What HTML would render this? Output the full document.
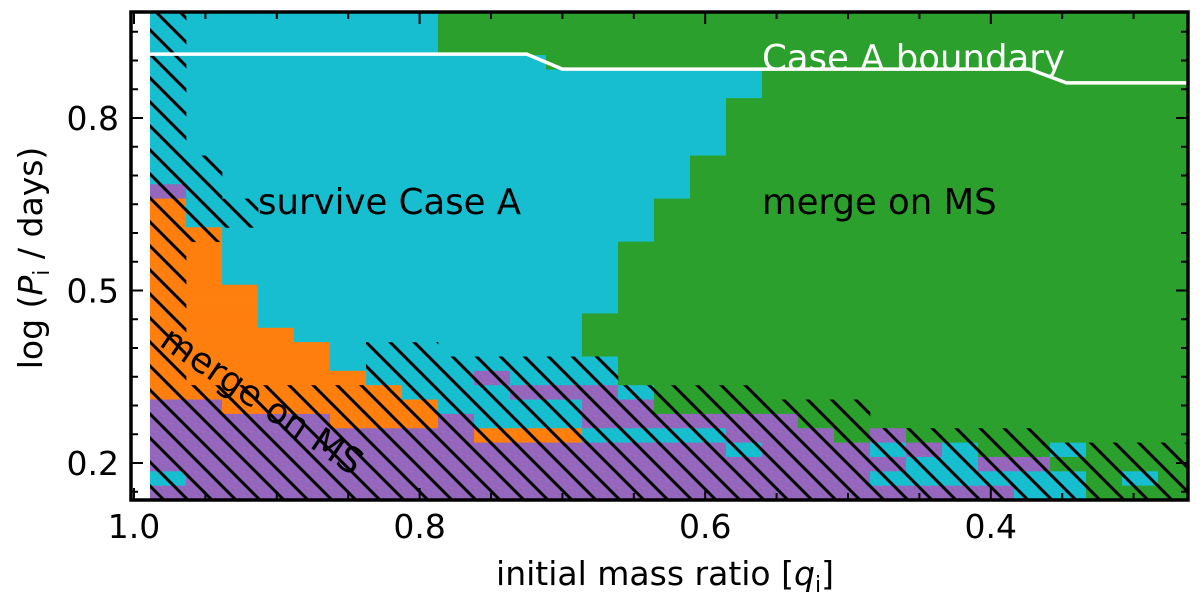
<!DOCTYPE html>
<html><head><meta charset="utf-8"><style>
body{margin:0;background:#fff}
svg{display:block;font-family:"DejaVu Sans","Liberation Sans",sans-serif}
</style></head><body>
<svg id="chart" width="1200" height="596" viewBox="0 0 1200 596">
<defs>
<clipPath id="plotclip"><rect x="131" y="12" width="1057" height="488"/></clipPath>
<pattern id="hatch" patternUnits="userSpaceOnUse" width="24" height="24">
<path d="M-6,-6 L30,30 M-6,18 L6,30 M18,-6 L30,6" stroke="#000" stroke-width="3"/>
</pattern>
</defs>
<g id="cells" clip-path="url(#plotclip)"></g>
<g id="hatches" clip-path="url(#plotclip)"></g>
<g id="boundary" clip-path="url(#plotclip)"></g>
<text x="762" y="70" fill="#fff" font-size="35.5">Case A boundary</text>
<text x="258" y="214" fill="#000" font-size="35.5">survive Case A</text>
<text x="762" y="214" fill="#000" font-size="35.5">merge on MS</text>
<text x="0" y="0" fill="#000" font-size="35.5" transform="translate(158,345) rotate(34)">merge on MS</text>
<g id="axes"></g>
<rect x="131" y="12" width="1057" height="488" fill="none" stroke="#000" stroke-width="3.5"/>
<text x="665" y="585" font-size="33" text-anchor="middle">initial mass ratio [<tspan font-style="italic">q</tspan><tspan font-size="22" dy="7">i</tspan><tspan dy="-7">]</tspan></text>
<text transform="translate(42,258) rotate(-90)" font-size="33" text-anchor="middle">log (<tspan font-style="italic">P</tspan><tspan font-size="22" dy="7">i</tspan><tspan dy="-7"> / days)</tspan></text>
</svg>
<script>
// grid rows, top (row 0) to bottom; C=survive Case A, G=merge on MS, O=merge on MS (orange), P=purple
const gridRows = [
"CCCCCCCCGGGGGGGGGGGGGGGGGGGGG",
"CCCCCCCCGGGGGGGGGGGGGGGGGGGGG",
"CCCCCCCCGGGGGGGGGGGGGGGGGGGGG",
"CCCCCCCCCCCGGGGGGGGGGGGGGGGGG",
"CCCCCCCCCCCCCCCCCGGGGGGGGGGGG",
"CCCCCCCCCCCCCCCCCGGGGGGGGGGGG",
"CCCCCCCCCCCCCCCCGGGGGGGGGGGGG",
"CCCCCCCCCCCCCCCCGGGGGGGGGGGGG",
"CCCCCCCCCCCCCCCCGGGGGGGGGGGGG",
"CCCCCCCCCCCCCCCCGGGGGGGGGGGGG",
"CCCCCCCCCCCCCCCGGGGGGGGGGGGGG",
"CCCCCCCCCCCCCCCGGGGGGGGGGGGGG",
"PCCCCCCCCCCCCCCGGGGGGGGGGGGGG",
"OCCCCCCCCCCCCCGGGGGGGGGGGGGGG",
"OCCCCCCCCCCCCCGGGGGGGGGGGGGGG",
"OOCCCCCCCCCCCCGGGGGGGGGGGGGGG",
"OOCCCCCCCCCCCGGGGGGGGGGGGGGGG",
"OOCCCCCCCCCCCGGGGGGGGGGGGGGGG",
"OOCCCCCCCCCCCGGGGGGGGGGGGGGGG",
"OOOCCCCCCCCCCGGGGGGGGGGGGGGGG",
"OOOCCCCCCCCCCGGGGGGGGGGGGGGGG",
"OOOCCCCCCCCCGGGGGGGGGGGGGGGGG",
"OOOOCCCCCCCCGGGGGGGGGGGGGGGGG",
"OOOOOCCCCCCCGGGGGGGGGGGGGGGGG",
"OOOOOCCCCCCCCGGGGGGGGGGGGGGGG",
"OOOOOOCCCPCCCGGGGGGGGGGGGGGGG",
"OOOOOOOCCCPPPCGGGGGGGGGGGGGGG",
"PPOOOOOOCCCCPPGGGGGGGGGGGGGGG",
"PPPPPOOOPCCCPPPPPPGGGGGGGGGGG",
"PPPPPPPPPOOOCCCCPPPGPGGGGGGGG",
"PPPPPPPPPPPPPPPPCPPPCPCGGCGGG",
"PPPPPPPPPPPPPPPPPPPPPCCPPGGGG",
"CPPPPPPPPPPPPPPPPPPPCCCCCCGCG",
"PPPPPPPPPPPPPPPPPPPPPPPPCCGGG"
];
// first hatched row (from the bottom band) per column
const hatchFrom = [0,26,26,26,26,26,23,23,24,24,24,24,24,26,26,26,26,27,27,27,29,29,29,29,29,30,30,30,30];
// extra isolated hatched ranges [column, firstRow, lastRow]
const hatchExtra = [[1,10,15],[2,13,14]];
// grid bin edges in data units
const qFirstEdge = 0.9888, qStep = 0.02521;
const pTopEdge = 0.9843, pStep = 0.02496;
// Case A boundary line (q, logP)
const boundaryQ = [1.0, 0.725, 0.700, 0.373, 0.347, 0.25];
const boundaryP = [0.911, 0.911, 0.885, 0.885, 0.861, 0.861];
// ticks
const xMajor = [1.0, 0.8, 0.6, 0.4];
const xMajorLabels = ["1.0","0.8","0.6","0.4"];
const xMinor = [0.95,0.9,0.85,0.75,0.7,0.65,0.55,0.5,0.45,0.35,0.3];
const yMajor = [0.2, 0.5, 0.8];
const yMajorLabels = ["0.2","0.5","0.8"];
const yMinor = [0.15,0.25,0.3,0.35,0.4,0.45,0.55,0.6,0.65,0.7,0.75,0.85,0.9,0.95];

const colors = {C:"#17becf", G:"#2ca02c", O:"#ff7f0e", P:"#9467bd"};
const X = q => 134 + (1 - q) * 1428;
const Y = p => 118 + (0.8 - p) * 575;
const NS = "http://www.w3.org/2000/svg";
const cellsG = document.getElementById('cells');
const hatchG = document.getElementById('hatches');
function cellRect(c, r){
  const x0 = X(qFirstEdge - c*qStep), x1 = X(qFirstEdge - (c+1)*qStep);
  const y0 = Y(pTopEdge - r*pStep), y1 = Y(pTopEdge - (r+1)*pStep);
  return [x0, y0, x1 - x0 + 0.4, y1 - y0 + 0.4];
}
gridRows.forEach((row, r) => {
  for (let c = 0; c < row.length; c++) {
    const [x, y, w, h] = cellRect(c, r);
    const el = document.createElementNS(NS, 'rect');
    el.setAttribute('x', x); el.setAttribute('y', y);
    el.setAttribute('width', w); el.setAttribute('height', h);
    el.setAttribute('fill', colors[row[c]]);
    
    
    cellsG.appendChild(el);
  }
});
function hatchCell(c, r){
  const [x, y, w, h] = cellRect(c, r);
  const el = document.createElementNS(NS, 'rect');
  el.setAttribute('x', x); el.setAttribute('y', y);
  el.setAttribute('width', w); el.setAttribute('height', h);
  el.setAttribute('fill', 'url(#hatch)');
  
  
  hatchG.appendChild(el);
}
hatchFrom.forEach((start, c) => { for (let r = start; r < gridRows.length; r++) hatchCell(c, r); });
hatchExtra.forEach(([c, a, b]) => { for (let r = a; r <= b; r++) hatchCell(c, r); });

const bl = document.createElementNS(NS, 'polyline');
bl.setAttribute('points', boundaryQ.map((q,i) => X(q) + ',' + Y(boundaryP[i])).join(' '));
bl.setAttribute('fill', 'none'); bl.setAttribute('stroke', '#fff'); bl.setAttribute('stroke-width', '3.5');


document.getElementById('boundary').appendChild(bl);

const axesG = document.getElementById('axes');
function line(x1,y1,x2,y2,name){
  const l = document.createElementNS(NS,'line');
  l.setAttribute('x1',x1); l.setAttribute('y1',y1); l.setAttribute('x2',x2); l.setAttribute('y2',y2);
  l.setAttribute('stroke','#000'); l.setAttribute('stroke-width','2');
  
  
  axesG.appendChild(l);
}
function label(x,y,t,anchor,name){
  const e = document.createElementNS(NS,'text');
  e.setAttribute('x',x); e.setAttribute('y',y); e.setAttribute('font-size','33');
  e.setAttribute('text-anchor',anchor); e.textContent = t;
  
  
  axesG.appendChild(e);
}
xMajor.forEach((q,i) => {
  const x = X(q);
  line(x,500,x,488,'x-major-tick'); line(x,12,x,24,'x-major-tick-top');
  label(x,538,xMajorLabels[i],'middle','x-tick-label');
});
xMinor.forEach(q => { const x = X(q); line(x,500,x,493,'x-minor-tick'); line(x,12,x,19,'x-minor-tick-top'); });
yMajor.forEach((p,i) => {
  const y = Y(p);
  line(131,y,143,y,'y-major-tick'); line(1188,y,1176,y,'y-major-tick-right');
  label(119,y+12,yMajorLabels[i],'end','y-tick-label');
});
yMinor.forEach(p => { const y = Y(p); if (y>12 && y<500){ line(131,y,138,y,'y-minor-tick'); line(1188,y,1181,y,'y-minor-tick-right'); } });
</script>
</body></html>
